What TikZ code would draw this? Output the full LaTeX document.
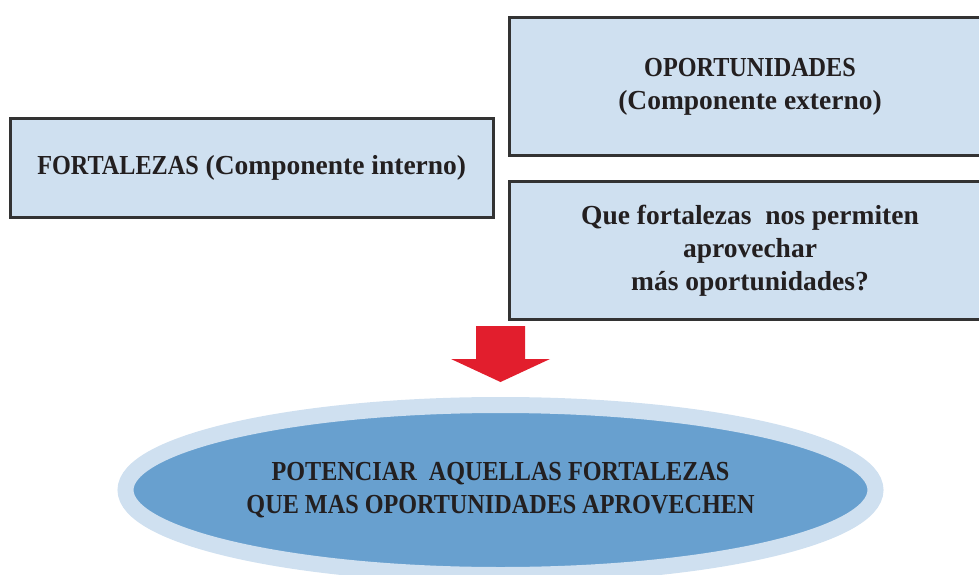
\documentclass[tikz,border=0pt]{standalone}
\usepackage{fontspec}
\setmainfont{Liberation Serif}
\newfontfamily\mayus[FakeStretch=0.88]{Liberation Serif}
\usetikzlibrary{shapes.geometric}
\definecolor{celeste}{RGB}{207,224,240}
\definecolor{azul}{RGB}{104,160,207}
\definecolor{rojo}{RGB}{226,30,45}
\definecolor{borde}{RGB}{51,51,51}
\definecolor{tinta}{RGB}{35,31,32}
\begin{document}
\begin{tikzpicture}[x=1pt,y=-1pt,
	caja/.style={draw=borde,fill=celeste,line width=3pt,rectangle,inner sep=0pt,
		text=tinta,align=center,font=\fontsize{27.5}{33}\selectfont\bfseries},
	meta/.style={ellipse,draw=celeste,fill=azul,line width=16pt,inner sep=0pt,
		text=tinta,align=center,font=\mayus\fontsize{27.5}{33}\selectfont\bfseries}]
\clip (0,0) rectangle (979,575);
% cajas
\node[caja,minimum width=482.5pt,minimum height=99pt] (fortalezas) at (251.75,168) {{\mayus FORTALEZAS} (Componente interno)};
\node[caja,minimum width=482pt,minimum height=138pt] (oportunidades) at (750,86.5) {{\mayus OPORTUNIDADES}\\(Componente externo)};
\node[caja,minimum width=482pt,minimum height=138pt] (pregunta) at (750,250.5) {Que fortalezas\ \ nos permiten\\aprovechar\\m\'as oportunidades?};
% flecha
\fill[rojo] (476,326) -- (525,326) -- (525,359) -- (550,359) -- (500.5,382) -- (451,359) -- (476,359) -- cycle;
% elipse
\node[meta,minimum width=750pt,minimum height=170pt] (potenciar) at (500.5,490) {POTENCIAR\ \ AQUELLAS FORTALEZAS\\QUE MAS OPORTUNIDADES APROVECHEN};
\end{tikzpicture}
\end{document}
